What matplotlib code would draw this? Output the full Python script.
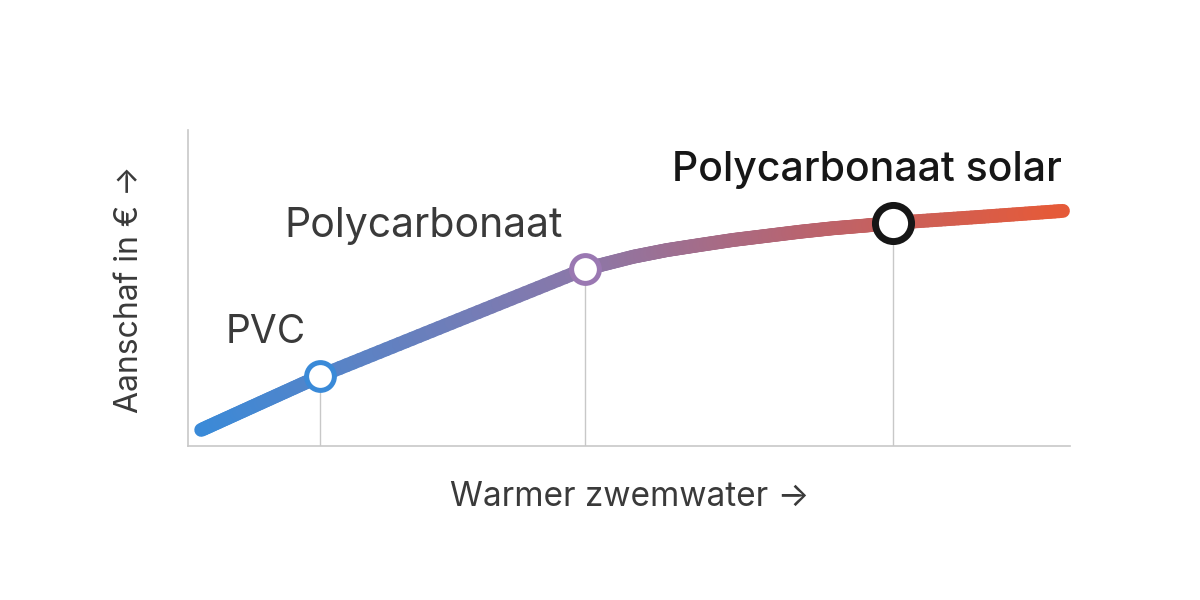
import numpy as np
import matplotlib.pyplot as plt
from matplotlib.collections import LineCollection
from matplotlib.colors import LinearSegmentedColormap

plt.rcParams['font.family'] = ['Inter', 'DejaVu Sans']

# curve (x: warmer water, y: purchase cost, both 0-100)
curve_x = [1.5, 8.2, 15.0, 29.9, 45.0, 50.5, 54.3, 58.0, 61.8, 65.6, 69.4, 73.1, 77.0, 79.9, 89.8, 99.2]
curve_y = [5.1, 13.6, 22.2, 39.0, 56.0, 59.9, 62.0, 63.6, 65.2, 66.5, 67.8, 68.9, 69.8, 70.6, 72.5, 74.4]

# materials marked on the curve
labels = ['PVC', 'Polycarbonaat', 'Polycarbonaat solar']
mark_x = [15.0, 45.0, 79.9]
mark_y = [22.2, 56.0, 70.6]

grad = LinearSegmentedColormap.from_list(
    'warm', [(0.0, '#3a8ad8'), (0.45, '#8c77a8'), (0.7, '#b86470'), (1.0, '#e65a38')])

fig = plt.figure(figsize=(12, 6), dpi=100)
ax = fig.add_axes([188 / 1200, 154 / 600, 882 / 1200, 316 / 600])
ax.set_xlim(0, 100)
ax.set_ylim(0, 100)

# drop lines from the markers to the axis
for mx, my in zip(mark_x, mark_y):
    ax.plot([mx, mx], [0, my], color='#c8c8c8', linewidth=1.0, zorder=1)

# gradient line: split each straight piece into short pieces for smooth colour
pts = []
for i in range(len(curve_x) - 1):
    t = np.linspace(0, 1, 20, endpoint=False)
    xs = curve_x[i] + (curve_x[i + 1] - curve_x[i]) * t
    ys = curve_y[i] + (curve_y[i + 1] - curve_y[i]) * t
    pts.extend(zip(xs, ys))
pts.append((curve_x[-1], curve_y[-1]))
pts = np.array(pts)
segs = np.stack([pts[:-1], pts[1:]], axis=1)
cvals = (segs[:, 0, 0] - curve_x[0]) / (curve_x[-1] - curve_x[0])
lc = LineCollection(segs, colors=grad(cvals), linewidths=10, capstyle='round',
                    joinstyle='round', zorder=2)
ax.add_collection(lc)

# markers
ax.plot(mark_x[0], mark_y[0], 'o', markersize=20, markerfacecolor='white',
        markeredgecolor='#3a8ad8', markeredgewidth=3.6, zorder=3)
ax.plot(mark_x[1], mark_y[1], 'o', markersize=20, markerfacecolor='white',
        markeredgecolor='#9a78b2', markeredgewidth=3.6, zorder=3)
ax.plot(mark_x[2], mark_y[2], 'o', markersize=26, markerfacecolor='white',
        markeredgecolor='#161616', markeredgewidth=5, zorder=3)

ax.text(4.3, 35.8, labels[0], fontsize=28, color='#3a3a3a', ha='left', va='center')
ax.text(10.9, 69.6, labels[1], fontsize=29.5, color='#3a3a3a', ha='left', va='center')
ax.text(77.0, 87.3, labels[2], fontsize=29.5, color='#161616', ha='center', va='center',
        fontweight='medium')

for side in ['top', 'right']:
    ax.spines[side].set_visible(False)
for side in ['left', 'bottom']:
    ax.spines[side].set_color('#c8c8c8')
    ax.spines[side].set_linewidth(1.2)
ax.set_xticks([])
ax.set_yticks([])

fig.text(630 / 1200, 1 - 497 / 600, 'Warmer zwemwater →', fontsize=24, color='#3a3a3a',
         ha='center', va='center')
fig.text(130 / 1200, 1 - 289 / 600, 'Aanschaf in € →', fontsize=23, color='#3a3a3a',
         ha='center', va='center', rotation=90)

fig.savefig('out.png', dpi=100, facecolor='white')
